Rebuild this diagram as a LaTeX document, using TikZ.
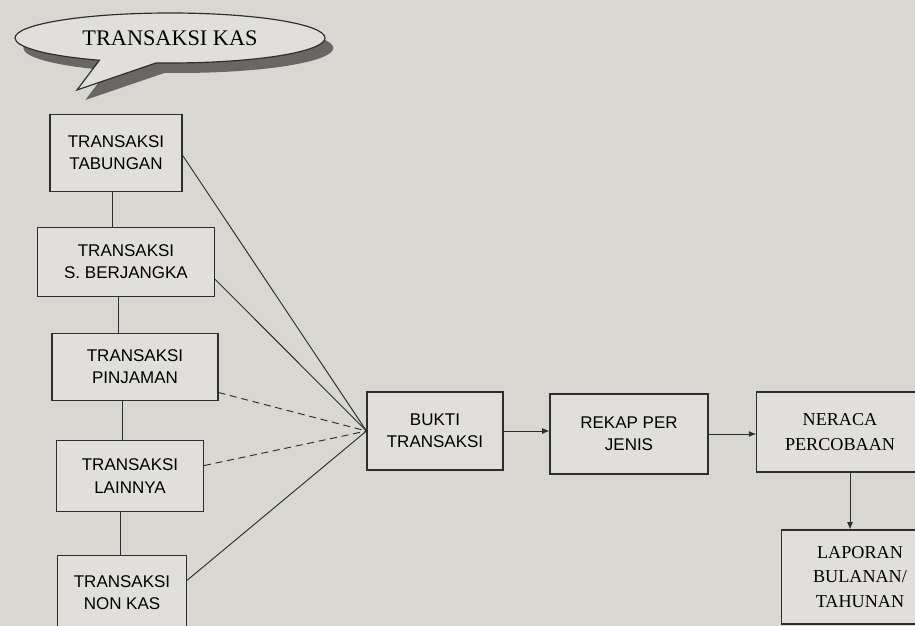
\documentclass[tikz,border=0pt]{standalone}
\usepackage{fontspec}
\setmainfont{Liberation Serif}
\setsansfont{Liberation Sans}
\usetikzlibrary{arrows.meta,shapes.callouts,shadows}
\definecolor{paper}{RGB}{216,215,210}
\definecolor{ink}{RGB}{45,45,45}

\begin{document}
\begin{tikzpicture}[x=0.03cm, y=-0.03cm,
   box/.style={draw=ink, line width=0.9pt, fill=paper!80!white, align=center,
               font=\sffamily\fontsize{14.5}{19}\selectfont, inner sep=2pt},
   serifbox/.style={box, font=\rmfamily\fontsize{15.5}{21}\selectfont},
   link/.style={draw=ink, line width=0.8pt},
   dashlink/.style={link, dash pattern=on 6pt off 4pt},
   arr/.style={link, -{Latex[length=2.2mm,width=1.8mm]}},
   bubble/.style={ellipse callout, draw=ink, line width=1pt, fill=paper!80!white,
               minimum width=9.3cm, minimum height=1.5cm, callout pointer arc=22,
               callout absolute pointer={(77,90)},
               drop shadow={shadow xshift=0.25cm, shadow yshift=-0.3cm, fill=black!70, opacity=0.8},
               font=\rmfamily\fontsize{19}{22}\selectfont}]
   \useasboundingbox (0,0) rectangle (915,626);
   \clip (0,0) rectangle (915,626);
   \fill[paper] (0,0) rectangle (915,626);
   % judul
   \node[bubble] (kas) at (170,38) {TRANSAKSI KAS};
   % jenis transaksi
   \node[box, minimum width=3.96cm, minimum height=2.31cm] (tabungan) at (116,153) {TRANSAKSI\\TABUNGAN};
   \node[box, minimum width=5.31cm, minimum height=2.07cm] (sberjangka) at (126,262) {TRANSAKSI\\S. BERJANGKA};
   \node[box, minimum width=4.98cm, minimum height=2.01cm] (pinjaman) at (135,367) {TRANSAKSI\\PINJAMAN};
   \node[box, minimum width=4.41cm, minimum height=2.13cm] (lainnya) at (130,476) {TRANSAKSI\\LAINNYA};
   \node[box, minimum width=3.87cm, minimum height=2.25cm] (nonkas) at (122,593) {TRANSAKSI\\NON KAS};
   \draw[link] ([xshift=-0.12cm]tabungan.south) -- ([xshift=-0.12cm]tabungan.south |- sberjangka.north);
   \draw[link] ([xshift=-0.24cm]sberjangka.south) -- ([xshift=-0.24cm]sberjangka.south |- pinjaman.north);
   \draw[link] ([xshift=-0.39cm]pinjaman.south) -- ([xshift=-0.39cm]pinjaman.south |- lainnya.north);
   \draw[link] ([xshift=-0.3cm]lainnya.south) -- ([xshift=-0.3cm]lainnya.south |- nonkas.north);
   % alur
   \node[box, minimum width=4.08cm, minimum height=2.34cm] (bukti) at (435,431) {BUKTI\\TRANSAKSI};
   \node[box, minimum width=4.74cm, minimum height=2.4cm] (rekap) at (629,434) {REKAP PER\\JENIS};
   \node[serifbox, minimum width=5.0cm, minimum height=2.4cm] (neraca) at (840,432) {NERACA\\PERCOBAAN};
   \node[serifbox, minimum width=4.7cm, minimum height=2.82cm] (laporan) at (860,577) {LAPORAN\\BULANAN/\\TAHUNAN};
   \foreach \src/\ang/\kind in {tabungan/-2/link, sberjangka/-11/link, pinjaman/-17/dashlink,
                                lainnya/8/dashlink, nonkas/11/link}
     \draw[\kind] (\src.\ang) -- (bukti.west);
   \draw[arr] (bukti.east) -- (bukti.east -| rekap.west);
   \draw[arr] (rekap.east) -- (rekap.east -| neraca.west);
   \draw[arr] (neraca.south) ++(10,0) coordinate (turun) -- (turun |- laporan.north);
\end{tikzpicture}
\end{document}
